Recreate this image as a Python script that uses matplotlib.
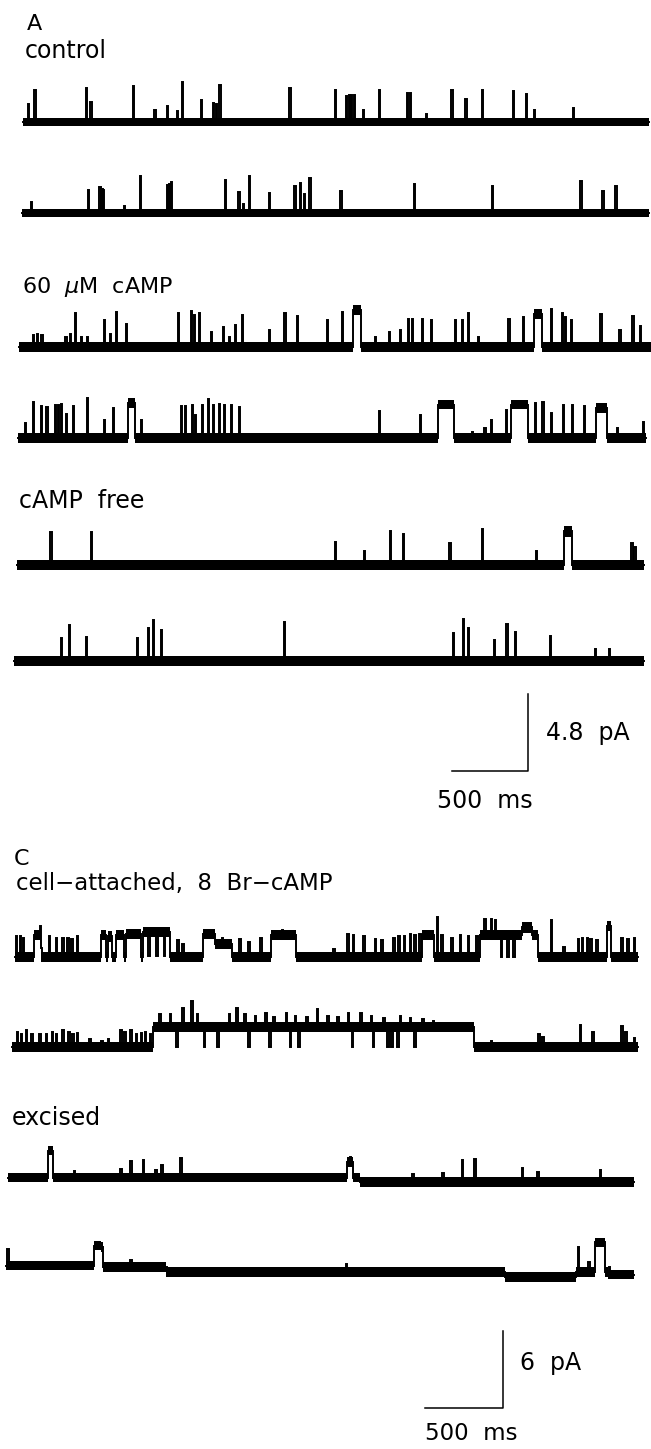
import numpy as np
import matplotlib
matplotlib.use("Agg")
import matplotlib.pyplot as plt

plt.rcParams['font.family'] = ['DejaVu Sans']

# ---- panel A : spikes (onset ms, amplitude pA) and long openings (t0, t1, pA)
a1_range = (151, 4270)
a1_t = [185, 226, 567, 594, 872, 1016, 1098, 1166, 1199, 1324, 1403, 1422, 1444,
        1904, 2201, 2275, 2294, 2310, 2326, 2386, 2495, 2675, 2697, 2800, 2969,
        3062, 3171, 3372, 3459, 3514, 3770]
a1_a = [1.1, 2.0, 2.1, 1.25, 2.25, 0.75, 1.0, 0.7, 2.5, 1.4, 1.2, 1.1, 2.3,
        2.1, 2.0, 1.6, 1.7, 1.7, 1.7, 0.75, 2.0, 1.8, 1.8, 0.5, 2.0,
        1.45, 2.0, 1.95, 1.75, 0.75, 0.9]
a1_open = []

a2_range = (145, 4270)
a2_t = [204, 580, 654, 667, 678, 817, 921, 1098, 1109, 1122, 1482, 1569, 1599,
        1637, 1771, 1937, 1972, 1997, 2035, 2239, 2724, 3236, 3819, 3963, 4048]
a2_a = [0.7, 1.45, 1.6, 1.5, 1.45, 0.45, 2.3, 1.75, 1.8, 1.95, 2.05, 1.3, 0.55,
        2.3, 1.25, 1.7, 1.9, 1.2, 2.2, 1.4, 1.8, 1.7, 2.0, 1.4, 1.7]
a2_open = []

a3_range = (125, 4283)
a3_t = [218, 245, 272, 430, 458, 493, 534, 572, 681, 725, 765, 828, 1171, 1258,
        1275, 1310, 1389, 1466, 1506, 1545, 1591, 1771, 1871, 1953, 2152, 2247,
        2465, 2561, 2631, 2683, 2710, 2778, 2833, 2991, 3037, 3078, 3146, 3345,
        3438, 3623, 3697, 3718, 3754, 3950, 4075, 4160, 4209]
a3_a = [0.73, 0.8, 0.73, 0.63, 0.83, 2.1, 0.6, 0.6, 1.67, 0.83, 2.2, 1.46, 2.1, 2.25,
        1.98, 2.1, 0.94, 1.25, 0.6, 1.35, 1.98, 1.08, 2.1, 1.92, 1.67, 2.19,
        0.6, 0.94, 1.08, 1.77, 1.77, 1.77, 1.71, 1.67, 1.67, 2.1, 0.6, 1.77,
        1.88, 2.4, 2.1, 1.9, 1.7, 2.04, 1.08, 1.92, 1.3]
a3_open = [(2321, 2375, 2.3), (3514, 3568, 2.04)]

a4_range = (118, 4250)
a4_t = [163, 218, 267, 305, 362, 381, 403, 436, 477, 572, 681, 741, 926, 1190,
        1218, 1261, 1280, 1327, 1370, 1403, 1438, 1471, 1520, 1572, 2492, 2765,
        3105, 3187, 3228, 3329, 3519, 3568, 3623, 3705, 3765, 3841, 4059, 4227]
a4_a = [0.94, 2.25, 1.98, 1.94, 2.08, 2.08, 2.15, 1.52, 1.98, 2.5, 1.15, 1.88, 1.15, 1.98,
        2.0, 2.04, 1.46, 2.04, 2.4, 2.08, 2.15, 2.08, 2.04, 1.94, 1.67, 1.46,
        0.4, 0.6, 1.15, 1.77, 2.2, 2.25, 1.56, 2.08, 2.04, 1.98, 0.6, 0.98]
a4_open = [(844, 888, 2.2), (2882, 2988, 2.08), (3364, 3473, 2.08), (3923, 3991, 1.88)]

a5_range = (109, 4236)
a5_t = [332, 599, 2201, 2392, 2563, 2653, 2956, 3168, 3528, 4154, 4173]
a5_a = [2.08, 2.08, 1.42, 0.9, 2.15, 1.94, 1.35, 2.23, 0.9, 1.4, 1.15]
a5_open = [(3710, 3765, 2.1)]

a6_range = (95, 4236)
a6_t = [400, 455, 567, 902, 975, 1008, 1057, 1866, 2977, 3045, 3078, 3250, 3331,
        3386, 3617, 3914, 4004]
a6_a = [1.46, 2.25, 1.5, 1.42, 2.08, 2.54, 1.96, 2.44, 1.77, 2.6, 2.04, 1.29, 2.29,
        1.83, 1.56, 0.73, 0.73]
a6_open = []

# ---- panel C
c1_range = (93, 4087)
c1_t = [101, 127, 146, 258, 313, 358, 398, 430, 456, 491, 950, 1000, 1050, 1136,
        1168, 1420, 1534, 1592, 1667, 1805, 2136, 2224, 2261, 2330, 2402, 2442,
        2521, 2553, 2588, 2627, 2654, 2686, 2800, 2827, 2893, 2946, 2999, 3052,
        3105, 3145, 3172, 3211, 3251, 3291, 3530, 3609, 3702, 3729, 3760, 3782,
        3822, 3981, 4021, 4061]
c1_a = [1.6, 1.6, 1.5, 0.7, 1.6, 1.5, 1.5, 1.5, 1.4, 1.6, -1.9, -1.9, -1.9, 1.3,
        1.0, 0.5, 1.4, 1.2, 1.5, 0.4, 0.6, 1.8, 1.7, 1.6, 1.4, 1.3,
        1.5, 1.6, 1.6, 1.8, 1.7, 1.8, 3.1, 1.7, 1.5, 1.7, 1.6, 1.6,
        1.3, 1.3, 1.2, -1.7, -1.7, -1.7, 2.9, 0.8, 1.4, 1.5, 1.5, 1.4,
        1.3, 1.5, 1.4, 1.5]
c1_open = [(218, 265, 1.7), (650, 677, 1.7), (695, 717, 1.6), (743, 796, 1.7),
           (809, 902, 1.8), (916, 1088, 1.95), (1300, 1380, 1.8), (1380, 1486, 1.0),
           (1738, 1898, 1.7), (2707, 2781, 1.7), (3079, 3450, 1.7), (3344, 3410, 0.6),
           (3888, 3915, 2.4)]

c2_range = (74, 4087)
c2_t = [106, 133, 165, 199, 252, 292, 332, 358, 398, 438, 464, 491, 571, 650, 690,
        770, 796, 836, 871, 902, 929, 961,
        1022, 1088, 1128, 1168, 1226, 1261, 1306, 1393, 1465, 1513, 1566, 1592,
        1632, 1699, 1725, 1752, 1831, 1858, 1890, 1911, 1964, 2030, 2097, 2163,
        2229, 2256, 2309, 2375, 2389, 2455, 2481, 2508, 2548, 2561, 2627, 2654,
        2707, 2773,
        3145, 3450, 3477, 3716, 3795, 3981, 4008, 4061]
c2_a = [1.2, 1.0, 1.3, 1.0, 1.0, 1.0, 1.2, 1.0, 1.3, 1.2, 1.0, 1.1, 0.6, 0.5, 0.6,
        1.3, 1.2, 1.3, 1.0, 1.1, 1.2, 1.0,
        1.0, 1.0, -1.55, 1.5, 2.0, 1.0, -1.55, -1.55, 1.0, 1.5, 1.0, -1.55,
        0.9, 1.1, -1.55, 0.8, 1.1, -1.55, 0.9, -1.55, 0.8, 1.4, 0.9, 0.8,
        1.1, -1.55, 1.1, 0.9, -1.55, 0.7, -1.55, -1.55, -1.55, 0.9, 0.7, -1.55,
        0.6, 0.5,
        0.5, 1.0, 0.8, 1.7, 1.2, 1.6, 1.2, 0.7]
c2_open = [(982, 3039, 1.55)]

c3_range = (53, 4061)
c3_t = [472, 770, 836, 916, 995, 1035, 1154, 2243, 2641, 2834, 2959, 3039, 3344,
        3442, 3843]
c3_a = [0.5, 0.7, 1.3, 1.4, 0.6, 1.0, 1.5, 0.4, 0.6, 0.7, 1.7, 1.8, 1.1,
        0.8, 0.9]
# first entry: raised baseline over the first half of the sweep
c3_open = [(53, 2309, 0.35), (305, 340, 2.1), (2224, 2261, 1.2)]

c4_range = (40, 4061)
c4_t = [48, 836, 1062, 2216, 3702, 3769, 3901]
c4_a = [1.3, 0.5, 0.4, 0.6, 1.95, 0.8, 0.6]
# first two and the two negative entries: slow baseline drift
c4_open = [(40, 650, 0.5), (650, 1062, 0.4), (3238, 3690, -0.4), (3900, 4061, -0.2),
           (605, 658, 1.56), (3814, 3881, 2.3)]

W, H = 651, 1449
MS_A = 500 / 76.0      # ms per pixel
MS_C = 500 / 78.0
PX_A = 77 / 4.8        # pixels per pA
PX_C = 77 / 6.0

fig = plt.figure(figsize=(W / 100, H / 100), dpi=100)


def trace_axes(y_px, px_pa, ms_px, above=80, below=30):
    ax = fig.add_axes([0, 1 - (y_px + below) / H, 1, (above + below) / H])
    ax.set_xlim(0, W * ms_px)
    ax.set_ylim(-below / px_pa, above / px_pa)
    ax.axis('off')
    return ax


def step_trace(rng, sp_t, sp_a, sp_w, opens):
    ev = [(t, t + sp_w, a) for t, a in zip(sp_t, sp_a)] + list(opens)
    edges = {rng[0], rng[1]} | {e[0] for e in ev} | {e[1] for e in ev}
    edges = sorted(e for e in edges if rng[0] <= e <= rng[1])
    lev = []
    for a, b in zip(edges[:-1], edges[1:]):
        m = 0.5 * (a + b)
        lev.append(sum(e[2] for e in ev if e[0] <= m < e[1]))
    x = np.repeat(edges, 2)[1:-1]
    y = np.repeat(lev, 2)
    return x, y


traces = [
    # (y baseline px, range, spike t, spike a, openings, panel, noise pA)
    (122, a1_range, a1_t, a1_a, a1_open, 'A', 0.24),
    (213, a2_range, a2_t, a2_a, a2_open, 'A', 0.24),
    (347, a3_range, a3_t, a3_a, a3_open, 'A', 0.3),
    (438, a4_range, a4_t, a4_a, a4_open, 'A', 0.3),
    (565, a5_range, a5_t, a5_a, a5_open, 'A', 0.34),
    (661, a6_range, a6_t, a6_a, a6_open, 'A', 0.34),
    (957, c1_range, c1_t, c1_a, c1_open, 'C', 0.4),
    (1047, c2_range, c2_t, c2_a, c2_open, 'C', 0.4),
    (1182, c3_range, c3_t, c3_a, c3_open, 'C', 0.38),
    (1272, c4_range, c4_t, c4_a, c4_open, 'C', 0.38),
]

for y_px, rng, st, sa, op, panel, noise in traces:
    if panel == 'A':
        ax = trace_axes(y_px, PX_A, MS_A)
        w = 8
    else:
        ax = trace_axes(y_px, PX_C, MS_C)
        w = 10
    # noisy band follows the slow (long-opening) level only, brief events stay thin
    xs, ys = step_trace(rng, [], [], w, op)
    ax.fill_between(xs, ys - noise, ys + noise, color='black', lw=0)
    x, y = step_trace(rng, st, sa, w, op)
    ax.plot(x, y, color='black', lw=1.4, solid_joinstyle='miter')

# scale bars
axs = trace_axes(771, PX_A, MS_A)
axs.plot([452 * MS_A, 528 * MS_A, 528 * MS_A], [0, 0, 4.8], color='black', lw=1.1)
axs = trace_axes(1408, PX_C, MS_C)
axs.plot([425 * MS_C, 503 * MS_C, 503 * MS_C], [0, 0, 6.0], color='black', lw=1.1)


def label(x, y, s, size=17):
    fig.text(x / W, 1 - y / H, s, fontsize=size, ha='left', va='baseline', color='black')


label(27, 30, 'A', 16)
label(25, 58, 'control')
label(22, 293, r'60  $\mu$M  cAMP', 16)
label(19, 508, 'cAMP  free')
label(546, 740, '4.8  pA')
label(437, 808, '500  ms')
label(14, 865, 'C', 16)
label(16, 890, 'cell\u2212attached,  8  Br\u2212cAMP', 16.5)
label(12, 1125, 'excised')
label(520, 1370, '6  pA')
label(425, 1440, '500  ms', 16.5)

fig.savefig('out.png', dpi=100)
